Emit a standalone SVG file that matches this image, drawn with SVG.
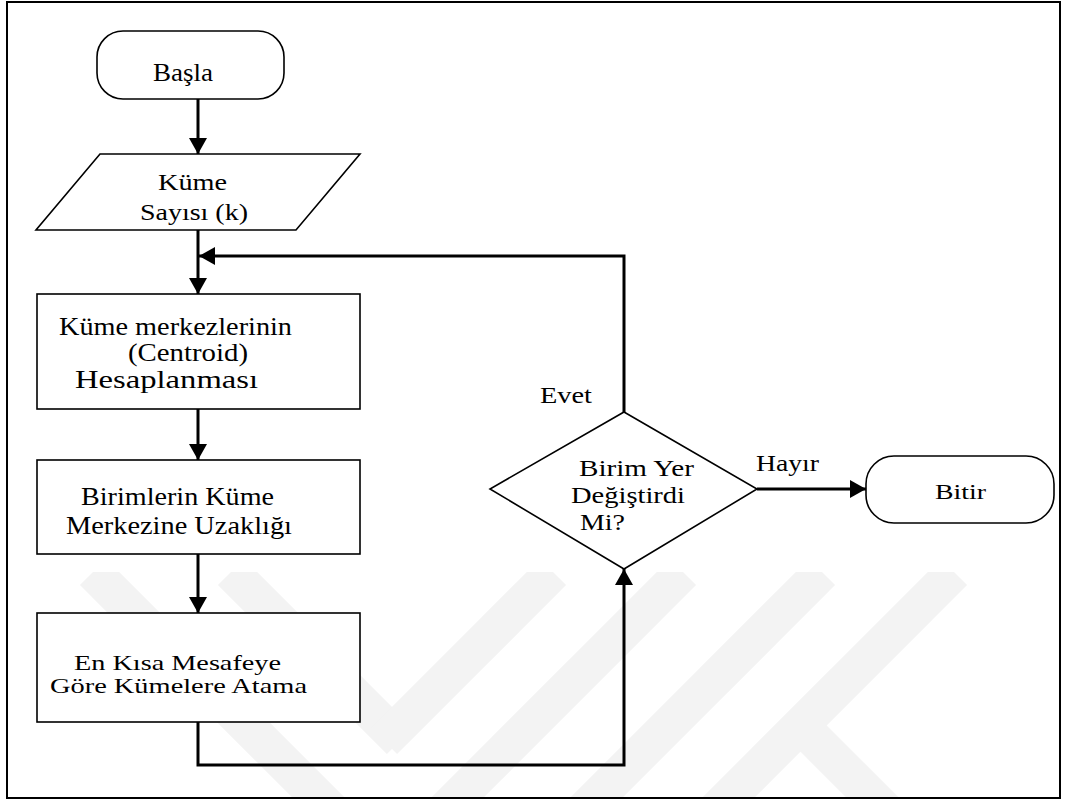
<svg xmlns="http://www.w3.org/2000/svg" width="1067" height="800" viewBox="0 0 1067 800">
  <style>
    .shape { fill: #ffffff; stroke: #000000; stroke-width: 1.6; }
    .conn { fill: none; stroke: #000000; stroke-width: 3; }
    .t { font-family: "Liberation Serif", "Times New Roman", serif; fill: #000000; }
    .wm { fill: none; stroke: #f3f3f3; stroke-width: 37; stroke-linecap: butt; }
  </style>
  <defs>
    <marker id="arrow" viewBox="0 0 16 18" refX="16" refY="9" markerWidth="16" markerHeight="18" markerUnits="userSpaceOnUse" orient="auto">
      <path d="M0,0 L16,9 L0,18 Z" fill="#000000"/>
    </marker>
    <clipPath id="wmclip">
      <rect x="8" y="572" width="1052" height="225"/>
    </clipPath>
  </defs>

  <rect x="0" y="0" width="1067" height="800" fill="#ffffff"/>

  <g id="watermark" clip-path="url(#wmclip)">
    <line class="wm" x1="93" y1="572" x2="343" y2="822"/>
    <line class="wm" x1="231" y1="572" x2="400" y2="741"/>
    <line class="wm" x1="553" y1="572" x2="384" y2="741"/>
    <line class="wm" x1="683" y1="572" x2="433" y2="822"/>
    <line class="wm" x1="822" y1="572" x2="572" y2="822"/>
    <line class="wm" x1="954" y1="572" x2="704" y2="822"/>
    <line class="wm" x1="800" y1="725" x2="897" y2="822"/>
  </g>

  <rect id="frame" x="7" y="2" width="1053" height="796" fill="none" stroke="#000000" stroke-width="2"/>

  <g id="connectors">
    <path class="conn" d="M198,99 V154" marker-end="url(#arrow)"/>
    <path class="conn" d="M198,230 V294" marker-end="url(#arrow)"/>
    <path class="conn" d="M198,409 V460" marker-end="url(#arrow)"/>
    <path class="conn" d="M198,554 V613" marker-end="url(#arrow)"/>
    <path class="conn" d="M198,722 V765 H624 V569" marker-end="url(#arrow)"/>
    <path class="conn" d="M624,412 V256 H199" marker-end="url(#arrow)"/>
    <path class="conn" d="M757,489 H866" marker-end="url(#arrow)"/>
  </g>

  <g id="basla">
    <rect class="shape" x="97" y="31" width="187" height="68" rx="26" ry="26"/>
    <text class="t" x="153" y="81" font-size="26" textLength="60" lengthAdjust="spacingAndGlyphs">Başla</text>
  </g>

  <g id="kume-sayisi">
    <polygon class="shape" points="100,154 360,154 296,230 36,230"/>
    <text class="t" x="158" y="190" font-size="24" textLength="69" lengthAdjust="spacingAndGlyphs">Küme</text>
    <text class="t" x="140" y="220" font-size="24" textLength="108" lengthAdjust="spacingAndGlyphs">Sayısı (k)</text>
  </g>

  <g id="centroid">
    <rect class="shape" x="37" y="294" width="323" height="115"/>
    <text class="t" x="59" y="335" font-size="25" textLength="233" lengthAdjust="spacingAndGlyphs">Küme merkezlerinin</text>
    <text class="t" x="128" y="361" font-size="25" textLength="120" lengthAdjust="spacingAndGlyphs">(Centroid)</text>
    <text class="t" x="75" y="388" font-size="25" textLength="183" lengthAdjust="spacingAndGlyphs">Hesaplanması</text>
  </g>

  <g id="uzaklik">
    <rect class="shape" x="37" y="460" width="323" height="94"/>
    <text class="t" x="81" y="505" font-size="25" textLength="193" lengthAdjust="spacingAndGlyphs">Birimlerin Küme</text>
    <text class="t" x="66" y="534" font-size="25" textLength="226" lengthAdjust="spacingAndGlyphs">Merkezine Uzaklığı</text>
  </g>

  <g id="atama">
    <rect class="shape" x="37" y="613" width="323" height="109"/>
    <text class="t" x="74" y="670" font-size="21" textLength="207" lengthAdjust="spacingAndGlyphs">En Kısa Mesafeye</text>
    <text class="t" x="50" y="693" font-size="21" textLength="257" lengthAdjust="spacingAndGlyphs">Göre Kümelere Atama</text>
  </g>

  <g id="karar">
    <polygon class="shape" points="624,412 757,489 624,569 490,489"/>
    <text class="t" x="579" y="476" font-size="24" textLength="115" lengthAdjust="spacingAndGlyphs">Birim Yer</text>
    <text class="t" x="571" y="503" font-size="24" textLength="114" lengthAdjust="spacingAndGlyphs">Değiştirdi</text>
    <text class="t" x="580" y="530" font-size="24" textLength="45" lengthAdjust="spacingAndGlyphs">Mi?</text>
  </g>

  <g id="labels">
    <text class="t" x="540" y="403" font-size="23" textLength="52" lengthAdjust="spacingAndGlyphs">Evet</text>
    <text class="t" x="756" y="471" font-size="23" textLength="63" lengthAdjust="spacingAndGlyphs">Hayır</text>
  </g>

  <g id="bitir">
    <rect class="shape" x="866" y="456" width="188" height="67" rx="28" ry="28"/>
    <text class="t" x="935" y="499" font-size="22" textLength="51" lengthAdjust="spacingAndGlyphs">Bitir</text>
  </g>
</svg>
